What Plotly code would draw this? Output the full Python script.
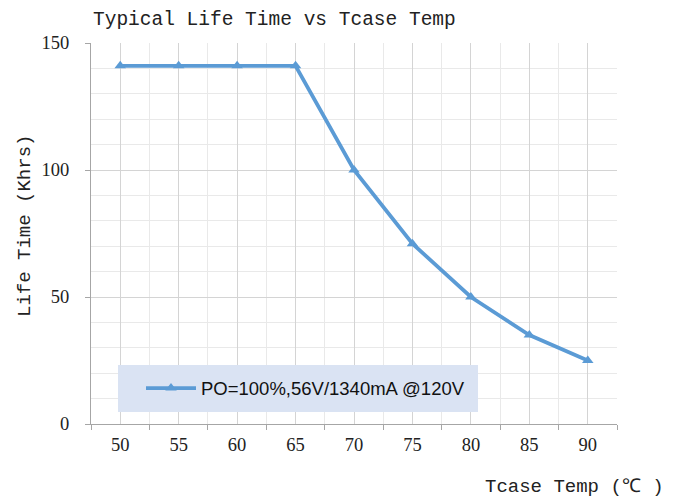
import plotly.graph_objects as go

temps = [50, 55, 60, 65, 70, 75, 80, 85, 90]
life_khrs = [141, 141, 141, 141, 100, 71, 50, 35, 25]
y_ticks = [0, 50, 100, 150]
series_name = "PO=100%,56V/1340mA @120V"

AX = "#a6a6a6"
GRID = "#d4d4d4"
MINOR = "#e9e9e9"
BLUE = "#5B9BD5"
MONO = "Liberation Mono, monospace"
SERIF = "Liberation Serif, Times New Roman, serif"

# page body has an 8px margin; work in window pixels and convert
OFF = 8
W, H = 683 - OFF, 499 - OFF
L, T = 91 - OFF, 43 - OFF
R = W - (617 - OFF)
B = H - (424 - OFF)
pw, ph = W - L - R, H - T - B

def px_x(p):
    return (p - OFF - L) / pw

def px_y(p):
    return (H - B - (p - OFF)) / ph

fig = go.Figure()
fig.add_trace(go.Scatter(
    x=temps, y=life_khrs, mode="lines+markers", name=series_name,
    line=dict(color=BLUE, width=3.8),
    marker=dict(symbol="triangle-up", size=10, color=BLUE),
))

fig.add_shape(type="rect", xref="paper", yref="paper",
              x0=px_x(118), x1=px_x(478), y0=px_y(412), y1=px_y(365),
              fillcolor="#DAE3F3", line=dict(width=0), layer="above")

fig.update_layout(
    width=W, height=H,
    margin=dict(l=L, r=R, t=T, b=B, pad=0),
    paper_bgcolor="white", plot_bgcolor="white",
    title=dict(text="Typical Life Time vs Tcase Temp", xref="container", yref="container",
               x=(93 - OFF) / W, xanchor="left", y=1 - (18 - OFF) / H, yanchor="middle",
               font=dict(family=MONO, size=19.5, color="#222")),
    showlegend=True,
    legend=dict(x=px_x(141), xanchor="left", y=px_y(388.5), yanchor="middle",
                bgcolor="rgba(0,0,0,0)", borderwidth=0, itemwidth=50,
                font=dict(family="Liberation Sans, Arial, sans-serif", size=18.5, color="#111")),
    xaxis=dict(range=[47.5, 92.5], tickmode="array", tickvals=temps,
               ticktext=[str(t) for t in temps], ticks="", showgrid=True, gridcolor=GRID,
               gridwidth=1, zeroline=False, showline=True, linecolor=AX, linewidth=1,
               tickfont=dict(family=SERIF, size=18.5, color="#222"), ticklabelstandoff=4,
               minor=dict(tick0=47.5, dtick=5, ticks="outside", ticklen=5, tickcolor=AX,
                          showgrid=True, gridcolor=MINOR)),
    yaxis=dict(range=[0, 150], tickmode="array", tickvals=y_ticks, ticks="outside",
               ticklen=5, tickcolor=AX, showgrid=True, gridcolor=GRID, zeroline=False,
               showline=True, linecolor=AX, linewidth=1,
               tickfont=dict(family=SERIF, size=18.5, color="#222"), ticklabelstandoff=12,
               minor=dict(dtick=10, showgrid=True, gridcolor=MINOR)),
    annotations=[
        dict(text="Tcase Temp (℃ )", xref="paper", yref="paper", x=px_x(483), xanchor="left",
             y=px_y(487), yanchor="middle", showarrow=False,
             font=dict(family=MONO, size=19, color="#222")),
        dict(text="Life Time (Khrs)", xref="paper", yref="paper", x=px_x(25), xanchor="center",
             y=px_y(226), yanchor="middle", textangle=-90, showarrow=False,
             font=dict(family=MONO, size=19, color="#222")),
    ],
)

fig.write_html("out.html")
